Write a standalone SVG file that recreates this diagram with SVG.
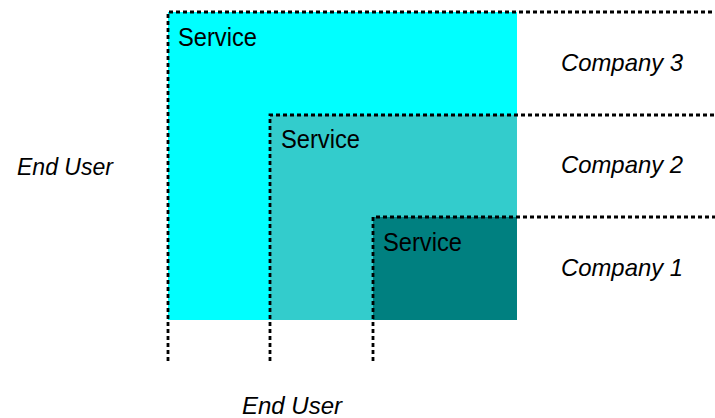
<svg xmlns="http://www.w3.org/2000/svg" width="715" height="418" viewBox="0 0 715 418">
<style>
.dash{fill:none;stroke:#000;stroke-width:2.8;stroke-dasharray:4 3}
.svc{font-family:"Liberation Sans",Arial,sans-serif;font-size:25px;fill:#000}
.lbl{font-family:"Liberation Sans",Arial,sans-serif;font-size:24px;font-style:italic;fill:#000}
</style>
<rect width="715" height="418" fill="#fff"/>
<g id="company3">
<rect x="168" y="12" width="349" height="308" fill="#00FFFF"/>
<text class="svc" x="178" y="46" textLength="79" lengthAdjust="spacingAndGlyphs">Service</text>
</g>
<g id="company2">
<rect x="270" y="115" width="247" height="205" fill="#33CCCC"/>
<text class="svc" x="281" y="148" textLength="79" lengthAdjust="spacingAndGlyphs">Service</text>
</g>
<g id="company1">
<rect x="373" y="217" width="144" height="103" fill="#008080"/>
<text class="svc" x="383" y="251" textLength="79" lengthAdjust="spacingAndGlyphs">Service</text>
</g>
<g id="connectors">
<path class="dash" d="M168 361V12H715"/>
<path class="dash" d="M270 361V115H715"/>
<path class="dash" d="M373 361V217H715"/>
</g>
<g id="labels">
<text class="lbl" x="561" y="71" textLength="122" lengthAdjust="spacingAndGlyphs">Company 3</text>
<text class="lbl" x="561" y="173" textLength="122" lengthAdjust="spacingAndGlyphs">Company 2</text>
<text class="lbl" x="561" y="276" textLength="122" lengthAdjust="spacingAndGlyphs">Company 1</text>
<text class="lbl" x="17" y="175" textLength="96" lengthAdjust="spacingAndGlyphs">End User</text>
<text class="lbl" x="242" y="414" textLength="100" lengthAdjust="spacingAndGlyphs">End User</text>
</g>
</svg>
